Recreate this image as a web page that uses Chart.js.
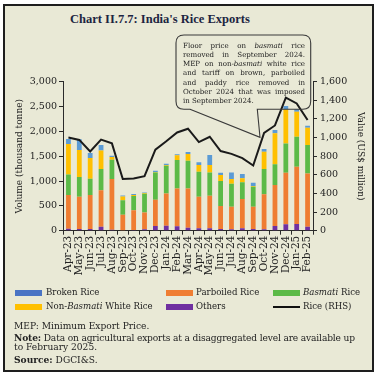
<!DOCTYPE html>
<html>
<head>
<meta charset="utf-8">
<script src="https://cdn.jsdelivr.net/npm/chart.js@4.4.1/dist/chart.umd.min.js"></script>
<style>
  html, body { margin:0; padding:0; background:#ffffff; width:378px; height:377px; overflow:hidden; }
  #frame { position:absolute; left:3px; top:4px; width:371px; height:368px; box-sizing:border-box;
           border:2px solid #1e1e1e; background:#e9e9d6; }
  #title { position:absolute; left:70px; top:12px; font-family:"Liberation Serif", serif; font-weight:bold;
           font-size:12.5px; color:#1c2541; white-space:nowrap; }
  #wrap { position:absolute; left:0; top:0; width:378px; height:290px; }
  #callout { position:absolute; left:0; top:0; width:378px; height:377px; pointer-events:none; }
  #ctext { position:absolute; left:183px; top:40.5px; width:122px; font-family:"DejaVu Serif", serif;
           font-size:7.05px; line-height:9.3px; color:#222; text-align:justify; }
  .leg { position:absolute; font-family:"DejaVu Serif", serif; font-size:8.6px; color:#222; white-space:nowrap; }
  .sw { position:absolute; width:27px; height:6px; }
  .note { position:absolute; left:14px; font-family:"DejaVu Serif", serif; font-size:9.1px; color:#222; white-space:nowrap; }
</style>
</head>
<body>
<div id="frame"></div>
<div id="title">Chart II.7.7: India's Rice Exports</div>
<div id="wrap"><canvas id="c" width="378" height="290"></canvas></div>
<svg id="callout" width="378" height="377">
  <path d="M190,109.3 L260,137.3 L257.3,109.3 L302.7,109.3 Q310.7,109.3 310.7,101.3 L310.7,43 Q310.7,35 302.7,35 L184,35 Q176,35 176,43 L176,101.3 Q176,109.3 184,109.3 Z"
        fill="none" stroke="#3a3a3a" stroke-width="1.1"/>
</svg>
<div id="ctext">Floor price on <i>basmati</i> rice removed in September 2024. MEP on non-<i>basmati</i> white rice and tariff on brown, parboiled and paddy rice removed in October 2024 that was imposed in September 2024.</div>

<div class="sw" style="left:15px;top:290px;background:#4a74c4"></div>
<div class="leg" style="left:46px;top:287px">Broken Rice</div>
<div class="sw" style="left:166px;top:290px;background:#ef7d32"></div>
<div class="leg" style="left:196px;top:287px">Parboiled Rice</div>
<div class="sw" style="left:273px;top:290px;background:#5cba47"></div>
<div class="leg" style="left:303px;top:287px"><i>Basmati</i> Rice</div>
<div class="sw" style="left:15px;top:304px;background:#ffc000"></div>
<div class="leg" style="left:46px;top:301px">Non-<i>Basmati</i> White Rice</div>
<div class="sw" style="left:166px;top:304px;background:#7030a0"></div>
<div class="leg" style="left:196px;top:301px">Others</div>
<div class="sw" style="left:273px;top:306px;height:2px;background:#111"></div>
<div class="leg" style="left:303px;top:301px">Rice (RHS)</div>

<div class="note" style="top:320.5px">MEP: Minimum Export Price.</div>
<div class="note" style="top:332px;letter-spacing:-0.15px"><b>Note:</b> Data on agricultural exports at a disaggregated level are available up</div>
<div class="note" style="top:342px">to February 2025.</div>
<div class="note" style="top:353.5px"><b>Source:</b> DGCI&amp;S.</div>

<script>
const months = ["Apr-23","May-23","Jun-23","Jul-23","Aug-23","Sep-23","Oct-23","Nov-23","Dec-23","Jan-24","Feb-24","Mar-24",
                "Apr-24","May-24","Jun-24","Jul-24","Aug-24","Sep-24","Oct-24","Nov-24","Dec-24","Jan-25","Feb-25"];
// Volume, thousand tonne
const others    = [40, 35, 35, 80, 20, 7, 13, 30, 95, 100, 90, 60, 47, 47, 34, 27, 47, 34, 27, 94, 128, 134, 81];
const parboiled = [678, 650, 683, 732, 1020, 315, 400, 335, 530, 650, 762, 792, 638, 658, 463, 456, 591, 449, 705, 825, 1040, 1155, 1073];
const basmati   = [416, 396, 329, 430, 390, 290, 285, 380, 545, 560, 571, 557, 503, 469, 503, 463, 335, 403, 510, 417, 590, 604, 571];
const nonBasmatiWhite = [611, 543, 416, 375, 53, 75, 20, 13, 10, 13, 94, 135, 134, 148, 121, 94, 81, 13, 349, 624, 685, 503, 349];
const broken    = [101, 215, 101, 108, 27, 20, 20, 13, 27, 27, 20, 40, 54, 201, 47, 134, 87, 67, 53, 67, 67, 47, 40];
// Value, US$ million (RHS)
const riceValue = [1000, 975, 850, 978, 938, 555, 560, 585, 870, 960, 1055, 1095, 952, 1009, 855, 825, 780, 700, 1050, 1130, 1428, 1367, 1188];
const leftTicks = { min: 0, max: 3000, step: 500 };
const rightTicks = { min: 0, max: 1600, step: 200 };

const tickFont = { family: "DejaVu Serif", size: 9.5 };
const axisColor = "#2a2a2a";
const fmt = v => Number(v).toLocaleString("en-US");

function bar(label, data, color) {
  return { type: "bar", label, data, backgroundColor: color, borderWidth: 0, yAxisID: "y", order: 1,
           barPercentage: 0.44, categoryPercentage: 1.0, stack: "s" };
}

new Chart(document.getElementById("c"), {
  data: {
    labels: months,
    datasets: [
      { type: "line", label: "Rice (RHS)", data: riceValue, yAxisID: "y1", borderColor: "#1a1a1a",
        borderWidth: 2, pointRadius: 0, tension: 0, order: 0 },
      bar("Others", others, "#7030a0"),
      bar("Parboiled Rice", parboiled, "#ef7d32"),
      bar("Basmati Rice", basmati, "#5cba47"),
      bar("Non-Basmati White Rice", nonBasmatiWhite, "#ffc000"),
      bar("Broken Rice", broken, "#5b9bd5")
    ]
  },
  options: {
    responsive: false,
    animation: false,
    devicePixelRatio: 1,
    layout: { padding: { left: 0, right: 0, top: 81.7, bottom: 0 } },
    plugins: { legend: { display: false }, tooltip: { enabled: false } },
    scales: {
      x: {
        stacked: true,
        grid: { display: true, drawOnChartArea: false, drawTicks: true, tickLength: 4, color: axisColor, offset: true },
        border: { display: true, color: axisColor, width: 1 },
        ticks: { font: { family: "DejaVu Serif", size: 10.5 }, color: "#222", maxRotation: 90, minRotation: 90,
                 autoSkip: false, padding: 1 },
        afterFit: s => { s.height = 290 - 230.7; }
      },
      y: {
        position: "left", stacked: true,
        min: leftTicks.min, max: leftTicks.max,
        grid: { drawOnChartArea: false, drawTicks: true, tickLength: 4, color: axisColor },
        border: { display: true, color: axisColor, width: 1 },
        ticks: { stepSize: leftTicks.step, font: tickFont, color: "#222", padding: 2, callback: fmt },
        title: { display: true, text: "Volume (thousand tonne)", font: { family: "DejaVu Serif", size: 9 },
                 color: "#222", padding: { top: 14, bottom: 0 } },
        afterFit: s => { s.width = 63; }
      },
      y1: {
        position: "right", stacked: false,
        min: rightTicks.min, max: rightTicks.max,
        grid: { drawOnChartArea: false, drawTicks: true, tickLength: 4, color: axisColor },
        border: { display: true, color: axisColor, width: 1 },
        ticks: { stepSize: rightTicks.step, font: tickFont, color: "#222", padding: 3, callback: fmt },
        title: { display: true, text: "Value (US$ million)", font: { family: "DejaVu Serif", size: 9 },
                 color: "#222", padding: { top: 12.5, bottom: 0 } },
        afterFit: s => { s.width = 378 - 313; }
      }
    }
  }
});
</script>
</body>
</html>
